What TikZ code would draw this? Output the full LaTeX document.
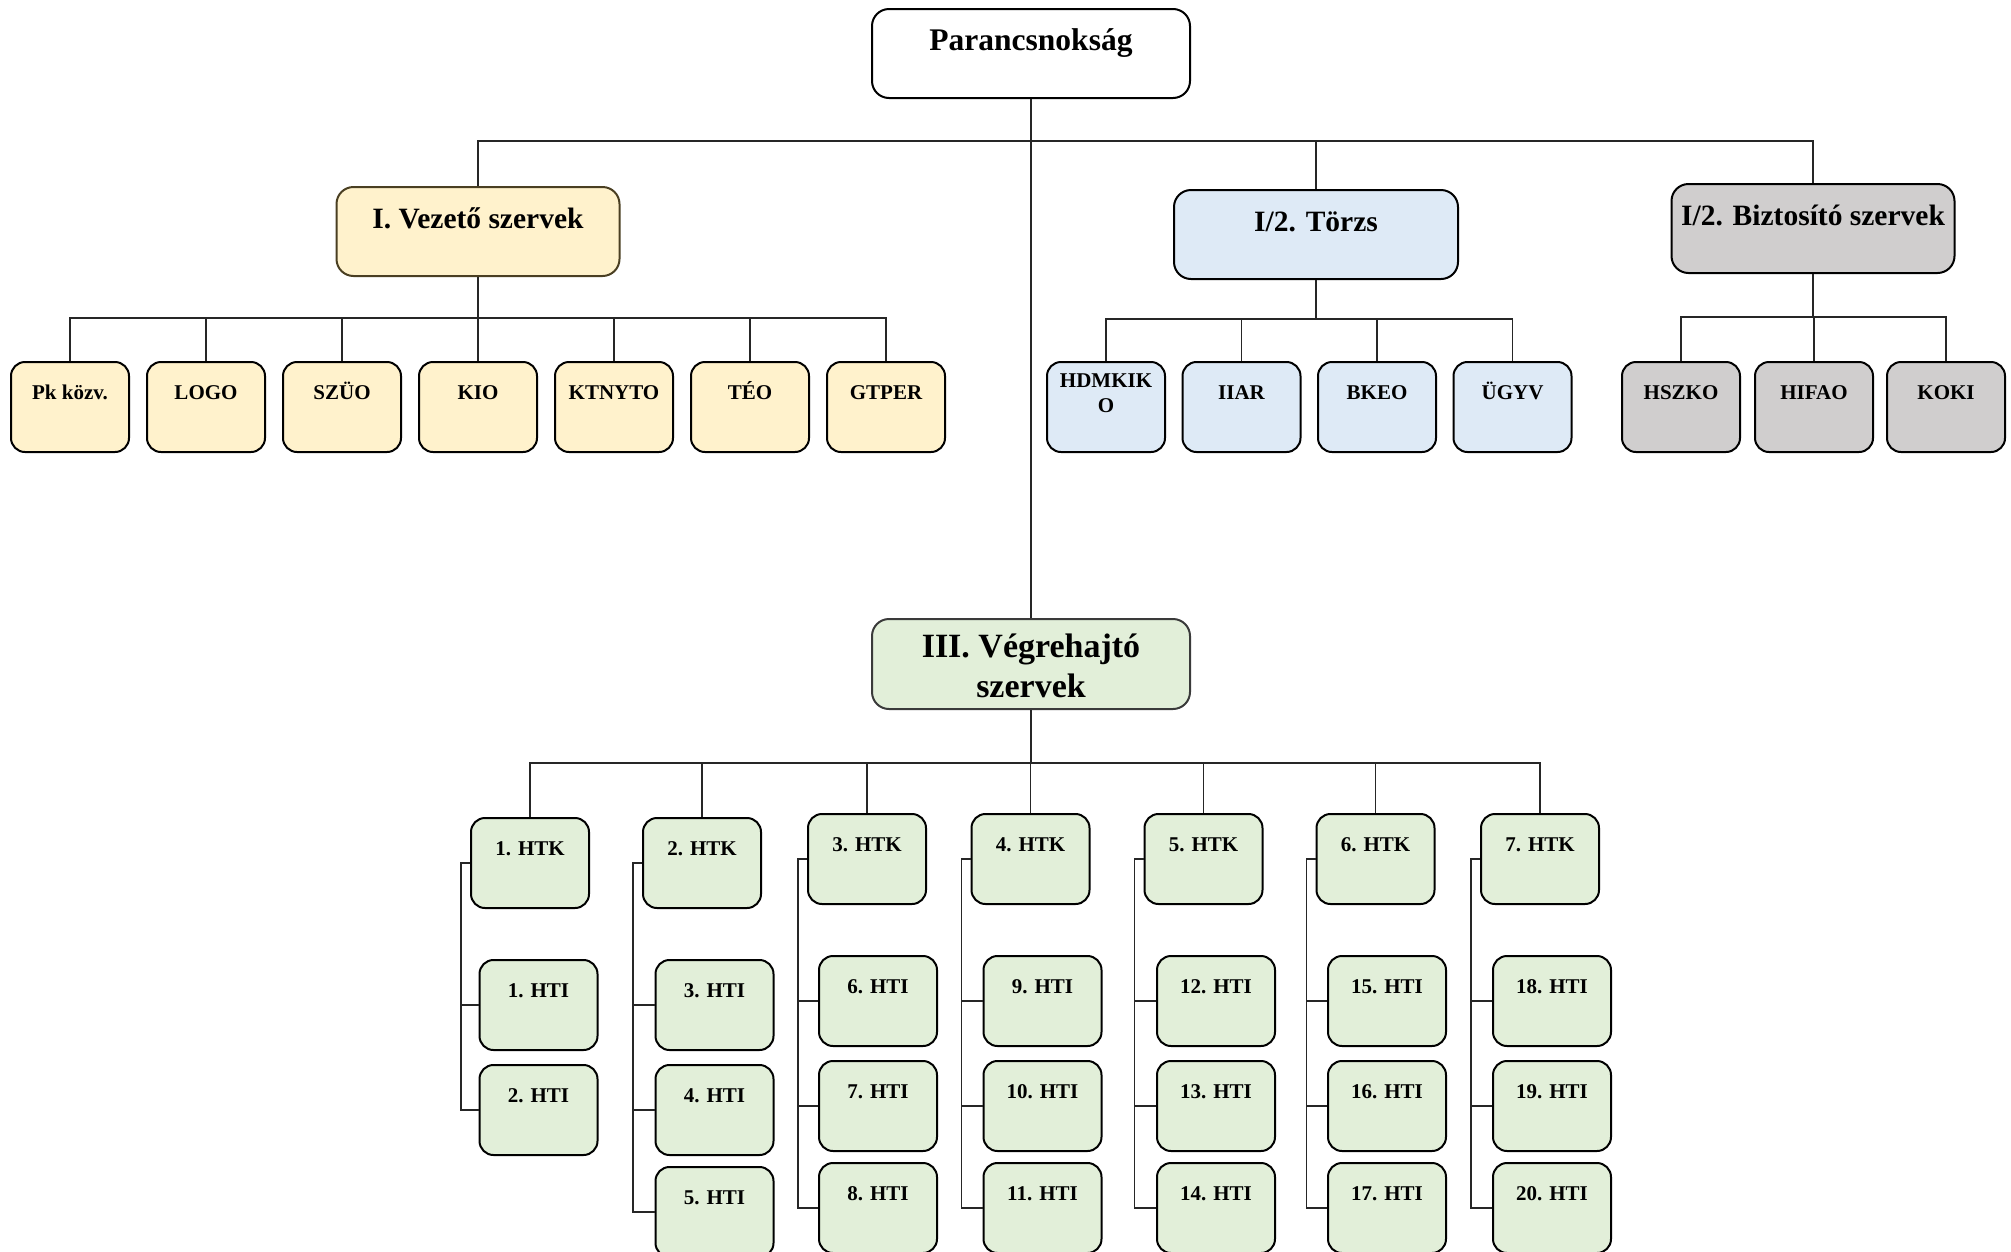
\documentclass[tikz,border=0pt]{standalone}
\usepackage{fontspec}
\setmainfont{Liberation Serif}
\definecolor{cyel}{HTML}{FFF2CC}
\definecolor{cblu}{HTML}{DEEAF6}
\definecolor{cgry}{HTML}{D0CECE}
\definecolor{cgrn}{HTML}{E2EFD9}
\definecolor{bolive}{HTML}{4A3F22}
\definecolor{bgray}{HTML}{3A3A3A}
\tikzset{
  conn/.style={draw=black!85, line width=1.3pt},
  boxbase/.style={draw=black, line width=2pt, anchor=north, inner sep=0pt, align=center},
  small/.style={boxbase, rounded corners=14pt, minimum width=118pt, minimum height=90pt,
     text height=37.5pt, text depth=52.5pt, font=\fontsize{21}{25}\selectfont\bfseries},
  head/.style={boxbase, rounded corners=17pt, minimum height=89pt,
     text height=41pt, text depth=48pt, font=\fontsize{29.5}{35}\selectfont\bfseries},
  yel/.style={small, fill=cyel},
  blu/.style={small, fill=cblu},
  gry/.style={small, fill=cgry},
  grn/.style={small, fill=cgrn},
}
\begin{document}
\begin{tikzpicture}[x=1pt,y=-1pt]
\useasboundingbox (0,0) rectangle (2011,1251);
% top
\node[head, fill=white, minimum width=318pt, font=\fontsize{31.5}{36}\selectfont\bfseries] (pk) at (1031,8) {Parancsnokság};
\node[head, fill=cyel, draw=bolive, minimum width=283pt] (vez) at (478,186) {I. Vezető szervek};
\node[head, fill=cblu, minimum width=284pt] (torzs) at (1316,189) {I/2. Törzs};
\node[head, fill=cgry, minimum width=283pt] (bizt) at (1813,183) {I/2. Biztosító szervek};
\node[boxbase, fill=cgrn, draw=bgray, rounded corners=17pt, minimum width=318pt, minimum height=90pt,
      text height=38pt, text depth=52pt] (veg) at (1031,618)
      {\parbox[t]{310pt}{\centering\fontsize{34}{40}\selectfont\bfseries III. Végrehajtó\\szervek}};
% yellow row
\node[yel] (y1) at (70,361) {Pk közv.};
\node[yel] (y2) at (206,361) {LOGO};
\node[yel] (y3) at (342,361) {SZÜO};
\node[yel] (y4) at (478,361) {KIO};
\node[yel] (y5) at (614,361) {KTNYTO};
\node[yel] (y6) at (750,361) {TÉO};
\node[yel] (y7) at (886,361) {GTPER};
% blue row
\node[blu, text height=25pt, text depth=65pt] (b1) at (1106,361) {\parbox[t]{110pt}{\centering HDMKIK\\O}};
\node[blu] (b2) at (1241.5,361) {IIAR};
\node[blu] (b3) at (1377,361) {BKEO};
\node[blu] (b4) at (1512.5,361) {ÜGYV};
% gray row
\node[gry] (g1) at (1681,361) {HSZKO};
\node[gry] (g2) at (1814,361) {HIFAO};
\node[gry] (g3) at (1946,361) {KOKI};
% HTK row
\node[grn] (k1) at (530,817) {1. HTK};
\node[grn] (k2) at (702,817) {2. HTK};
\node[grn] (k3) at (867,813) {3. HTK};
\node[grn] (k4) at (1030.5,813) {4. HTK};
\node[grn] (k5) at (1203.5,813) {5. HTK};
\node[grn] (k6) at (1375.5,813) {6. HTK};
\node[grn] (k7) at (1540,813) {7. HTK};
% HTI column 1
\node[grn] (i1) at (538.5,959) {1. HTI};
\node[grn] (i2) at (538.5,1064) {2. HTI};
% column 2
\node[grn] (i3) at (714.5,959) {3. HTI};
\node[grn] (i4) at (714.5,1064) {4. HTI};
\node[grn] (i5) at (714.5,1166) {5. HTI};
% column 3
\node[grn] (i6) at (878,955) {6. HTI};
\node[grn] (i7) at (878,1060) {7. HTI};
\node[grn] (i8) at (878,1162) {8. HTI};
% column 4
\node[grn] (i9) at (1042.5,955) {9. HTI};
\node[grn] (i10) at (1042.5,1060) {10. HTI};
\node[grn] (i11) at (1042.5,1162) {11. HTI};
% column 5
\node[grn] (i12) at (1216,955) {12. HTI};
\node[grn] (i13) at (1216,1060) {13. HTI};
\node[grn] (i14) at (1216,1162) {14. HTI};
% column 6
\node[grn] (i15) at (1387,955) {15. HTI};
\node[grn] (i16) at (1387,1060) {16. HTI};
\node[grn] (i17) at (1387,1162) {17. HTI};
% column 7
\node[grn] (i18) at (1552,955) {18. HTI};
\node[grn] (i19) at (1552,1060) {19. HTI};
\node[grn] (i20) at (1552,1162) {20. HTI};

% connectors: top level
\draw[conn] (pk.south) -- (veg.north);
\coordinate (tb) at (1031,141);
\draw[conn] (vez.north) |- (tb) -| (bizt.north);
\draw[conn] (tb) -| (torzs.north);
% Vezető
\coordinate (vb) at (478,318);
\draw[conn] (vez.south) -- (vb);
\draw[conn] (y1.north) |- (vb) -| (y7.north);
\foreach \n in {y2,y3,y4,y5,y6} \draw[conn] (\n.north) -- (\n.north |- vb);
% Törzs
\coordinate (tzb) at (1316,319);
\draw[conn] (torzs.south) -- (tzb);
\draw[conn] (b1.north) |- (tzb) -| (b4.north);
\foreach \n in {b2,b3} \draw[conn] (\n.north) -- (\n.north |- tzb);
% Biztosító
\coordinate (bzb) at (1813,317);
\draw[conn] (bizt.south) -- (bzb);
\draw[conn] (g1.north) |- (bzb) -| (g3.north);
\draw[conn] (g2.north) -- (g2.north |- bzb);
% Végrehajtó
\coordinate (vgb) at (1031,763);
\draw[conn] (veg.south) -- (vgb);
\draw[conn] (k1.north) |- (vgb) -| (k7.north);
\foreach \n in {k2,k3,k4,k5,k6} \draw[conn] (\n.north) -- (\n.north |- vgb);
% brackets
\draw[conn] (k1.west) -- ++(-9,0) coordinate (c1) |- (i2.west);
\draw[conn] (c1) |- (i1.west);
\draw[conn] (k2.west) -- ++(-9,0) coordinate (c2) |- (i5.west);
\foreach \n in {i3,i4} \draw[conn] (c2) |- (\n.west);
\draw[conn] (k3.west) -- ++(-9,0) coordinate (c3) |- (i8.west);
\foreach \n in {i6,i7} \draw[conn] (c3) |- (\n.west);
\draw[conn] (k4.west) -- ++(-9,0) coordinate (c4) |- (i11.west);
\foreach \n in {i9,i10} \draw[conn] (c4) |- (\n.west);
\draw[conn] (k5.west) -- ++(-9,0) coordinate (c5) |- (i14.west);
\foreach \n in {i12,i13} \draw[conn] (c5) |- (\n.west);
\draw[conn] (k6.west) -- ++(-9,0) coordinate (c6) |- (i17.west);
\foreach \n in {i15,i16} \draw[conn] (c6) |- (\n.west);
\draw[conn] (k7.west) -- ++(-9,0) coordinate (c7) |- (i20.west);
\foreach \n in {i18,i19} \draw[conn] (c7) |- (\n.west);
\end{tikzpicture}
\end{document}
